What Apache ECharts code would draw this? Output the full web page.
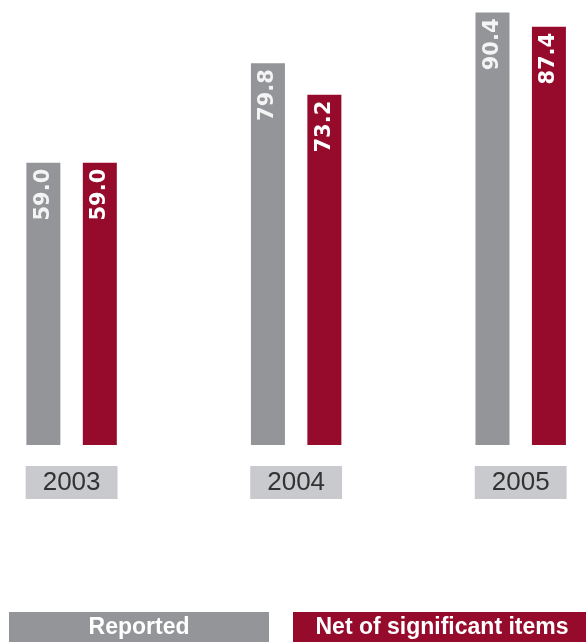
<!DOCTYPE html>
<html>
<head>
<meta charset="utf-8">
<script src="https://cdn.jsdelivr.net/npm/echarts@6/dist/echarts.min.js"></script>
<style>
  html, body { margin: 0; padding: 0; background: #ffffff; }
  #chart { width: 586px; height: 642px; }
</style>
</head>
<body>
<div id="chart"></div>
<script>
// Years on the category axis
const years = ['2003', '2004', '2005'];
// Series names (also the legend captions)
const seriesNames = ['Reported', 'Net of significant items'];
// Values per year
const reported = [59.0, 79.8, 90.4];
const netOfSignificant = [59.0, 73.2, 87.4];

const GRAY = '#939598';
const RED = '#960a2c';
const YEAR_BOX = '#c9cacd';

const chart = echarts.init(document.getElementById('chart'), null, { renderer: 'canvas' });

function valueLabel(color) {
  return {
    show: true,
    position: 'insideTop',
    distance: 6,
    rotate: 90,
    align: 'right',
    verticalAlign: 'middle',
    color: color,
    fontFamily: 'DejaVu Sans',
    fontWeight: 'bold',
    fontSize: 21,
    formatter: p => p.value.toFixed(1)
  };
}

chart.setOption({
  animation: false,
  backgroundColor: '#ffffff',
  grid: { left: 71.6, right: 65.3, top: 0, bottom: 197, containLabel: false },
  xAxis: {
    type: 'category',
    data: years,
    boundaryGap: false,
    axisLine: { show: false },
    axisTick: { show: false },
    splitLine: { show: false },
    axisLabel: {
      margin: 21,
      color: '#333333',
      fontFamily: 'Liberation Sans',
      fontSize: 26,
      lineHeight: 26,
      backgroundColor: YEAR_BOX,
      padding: [4, 17, 3, 17]
    }
  },
  yAxis: {
    type: 'value',
    min: 0,
    max: 93,
    show: false,
    splitLine: { show: false }
  },
  series: [
    {
      name: seriesNames[0],
      type: 'bar',
      data: reported,
      barWidth: 34,
      barGap: '66%',
      itemStyle: { color: GRAY },
      label: valueLabel('#f4f4f4')
    },
    {
      name: seriesNames[1],
      type: 'bar',
      data: netOfSignificant,
      barWidth: 34,
      barGap: '66%',
      itemStyle: { color: RED },
      label: valueLabel('#ffffff')
    }
  ],
  // Legend strip along the bottom edge
  graphic: [
    {
      type: 'rect',
      shape: { x: 9, y: 612, width: 260, height: 30 },
      style: { fill: GRAY }
    },
    {
      type: 'text',
      x: 139, y: 627.5,
      style: {
        text: seriesNames[0],
        fill: '#ffffff',
        font: 'bold 23px "Liberation Sans"',
        align: 'center',
        verticalAlign: 'middle'
      }
    },
    {
      type: 'rect',
      shape: { x: 293, y: 612, width: 293, height: 30 },
      style: { fill: RED }
    },
    {
      type: 'text',
      x: 442, y: 627.5,
      style: {
        text: seriesNames[1],
        fill: '#ffffff',
        font: 'bold 23px "Liberation Sans"',
        align: 'center',
        verticalAlign: 'middle'
      }
    }
  ]
});
</script>
</body>
</html>
